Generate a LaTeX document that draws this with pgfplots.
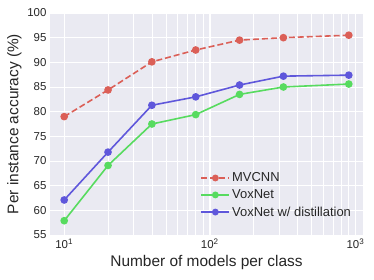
\documentclass[border=0pt]{standalone}
\usepackage{pgfplots}
\pgfplotsset{compat=1.18}
\usepackage{fontspec}
\setmainfont{Liberation Sans}
\definecolor{bgc}{HTML}{EAEAF2}
\definecolor{cred}{HTML}{DB5F57}
\definecolor{cgreen}{HTML}{57DB5F}
\definecolor{cblue}{HTML}{5F57DB}
\definecolor{txt}{HTML}{262626}
\begin{document}
\begin{tikzpicture}[x=1bp,y=1bp]
\path (-50bp,-45bp) rectangle (324bp,235bp);
\begin{axis}[
  at={(0,0)}, anchor=south west,
  scale only axis, width=313bp, height=222bp,
  xmode=log, xmin=7.99, xmax=1127, ymin=55, ymax=100,
  ytick={55,60,...,100},
  xtick={10,100,1000},
  xticklabels={10\textsuperscript{1},10\textsuperscript{2},10\textsuperscript{3}},
  /pgf/number format/assume math mode=true,
  axis background/.style={fill=bgc},
  axis line style={draw=none},
  major tick length=0pt, minor tick length=0pt,
  grid=both,
  major grid style={white, line width=1pt},
  minor grid style={white, line width=0.6pt},
  tick label style={font=\fontsize{11.5}{13}\selectfont, text=txt},
  label style={font=\fontsize{15.5}{17}\selectfont, text=txt},
  xlabel={Number of models per class},
  ylabel={Per instance accuracy (\%)},
  xlabel style={yshift=0bp},
  ylabel style={yshift=-1bp},
  legend style={at={(0.978,0.06)}, anchor=south east, draw=none, fill=none,
    font=\fontsize{13}{15}\selectfont, text=txt, row sep=2.5pt},
  legend cell align=left,
  legend image code/.code={\draw[#1, line width=1.6pt] (0bp,0bp) -- (28bp,0bp); \fill[#1, solid] (14bp,0bp) circle (2.6bp);},
  every axis plot/.append style={line width=1.6pt, mark=*, mark size=3bp, mark options={solid}},
]
\addplot[cred, dash pattern=on 6bp off 3bp] coordinates {(10,79) (20,84.4) (40,90.1) (80,92.5) (160,94.5) (320,95) (900,95.5)};
\addlegendentry{MVCNN}
\addplot[cgreen] coordinates {(10,57.9) (20,69.1) (40,77.5) (80,79.4) (160,83.5) (320,85) (900,85.6)};
\addlegendentry{VoxNet}
\addplot[cblue] coordinates {(10,62.1) (20,71.8) (40,81.3) (80,83) (160,85.4) (320,87.2) (900,87.4)};
\addlegendentry{VoxNet w/ distillation}
\end{axis}
\end{tikzpicture}
\end{document}
